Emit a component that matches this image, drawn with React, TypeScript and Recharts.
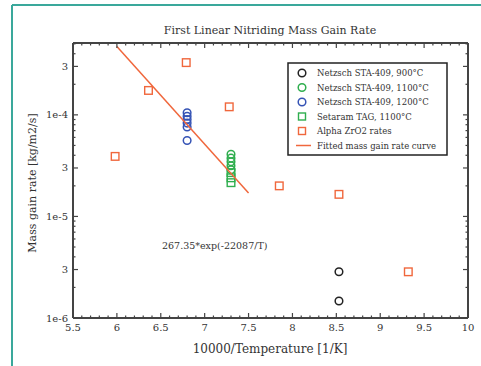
import React from "react";
import { ComposedChart, Scatter, XAxis, YAxis } from "recharts";

// x = 10000/T [1/K], y = mass gain rate [kg/m2/s]
const netzsch900: [number, number][] = [[8.53, 2.85e-6], [8.53, 1.47e-6]];
const netzsch1100: [number, number][] = [[7.3, 4.1e-5], [7.3, 3.75e-5], [7.3, 3.45e-5], [7.3, 3.15e-5], [7.3, 2.88e-5]];
const netzsch1200: [number, number][] = [[6.8, 1.05e-4], [6.8, 9.7e-5], [6.8, 9.0e-5], [6.8, 8.3e-5], [6.8, 7.6e-5], [6.8, 5.6e-5]];
const setaram: [number, number][] = [[7.3, 2.7e-5], [7.3, 2.4e-5], [7.3, 2.15e-5]];
const alphaRates: [number, number][] = [
  [5.98, 3.9e-5], [6.36, 1.74e-4], [6.79, 3.27e-4], [7.28, 1.2e-4],
  [7.85, 2.0e-5], [8.53, 1.65e-5], [9.32, 2.85e-6],
];
const fitCurve: [number, number][] = [[6.0, 4.7e-4], [7.5, 1.7e-5]];

const xMajor = [5.5, 6, 6.5, 7, 7.5, 8, 8.5, 9, 9.5, 10];
const xTicks = [
  5.5, 5.6, 5.7, 5.8, 5.9, 6, 6.1, 6.2, 6.3, 6.4, 6.5, 6.6, 6.7, 6.8, 6.9, 7, 7.1, 7.2, 7.3, 7.4,
  7.5, 7.6, 7.7, 7.8, 7.9, 8, 8.1, 8.2, 8.3, 8.4, 8.5, 8.6, 8.7, 8.8, 8.9, 9, 9.1, 9.2, 9.3, 9.4,
  9.5, 9.6, 9.7, 9.8, 9.9, 10,
];
const yTicks = [
  1e-6, 2e-6, 3e-6, 4e-6, 5e-6, 6e-6, 7e-6, 8e-6, 9e-6,
  1e-5, 2e-5, 3e-5, 4e-5, 5e-5, 6e-5, 7e-5, 8e-5, 9e-5,
  1e-4, 2e-4, 3e-4, 4e-4, 5e-4,
];
const yLabels: [number, string][] = [[1e-6, "1e-6"], [3e-6, "3"], [1e-5, "1e-5"], [3e-5, "3"], [1e-4, "1e-4"], [3e-4, "3"]];

const toPts = (a: [number, number][]) => a.map(([x, y]) => ({ x, y }));

const FONT = "'DejaVu Serif', 'Liberation Serif', serif";
const AX = "#444";
const ORANGE = "#f0673c";
const GREEN = "#2fae4e";
const BLUE = "#3553b5";
const BLACK = "#222";

const near = (a: number, b: number) => Math.abs(a - b) < 1e-6;
const yLabel = (v: number) => {
  const f = yLabels.find(([t]) => Math.abs(t - v) / t < 1e-6);
  return f ? f[1] : null;
};

const bottomTick = (p: any) => {
  const v = p.payload.value;
  const major = xMajor.some((m) => near(m, v));
  return (
    <g>
      <line x1={p.x} x2={p.x} y1={p.y} y2={p.y - (major ? 5 : 2.5)} stroke={AX} strokeWidth={1.2} />
      {major && (
        <text x={p.x} y={p.y + 13} textAnchor="middle" fontSize={10} fontFamily={FONT} fill="#333">
          {String(v)}
        </text>
      )}
    </g>
  );
};

const topTick = (p: any) => {
  const v = p.payload.value;
  const major = xMajor.some((m) => near(m, v));
  return <line x1={p.x} x2={p.x} y1={p.y} y2={p.y + (major ? 5 : 2.5)} stroke={AX} strokeWidth={1.2} />;
};

const leftTick = (p: any) => {
  const lab = yLabel(p.payload.value);
  return (
    <g>
      <line x1={p.x} x2={p.x + (lab ? 5 : 2.5)} y1={p.y} y2={p.y} stroke={AX} strokeWidth={1.2} />
      {lab && (
        <text x={p.x - 5} y={p.y + 3.5} textAnchor="end" fontSize={10} fontFamily={FONT} fill="#333">
          {lab}
        </text>
      )}
    </g>
  );
};

const rightTick = (p: any) => {
  const lab = yLabel(p.payload.value);
  return <line x1={p.x} x2={p.x - (lab ? 5 : 2.5)} y1={p.y} y2={p.y} stroke={AX} strokeWidth={1.2} />;
};

const circle = (color: string) => (p: any) => (
  <circle cx={p.cx} cy={p.cy} r={3.8} fill="none" stroke={color} strokeWidth={1.5} />
);
const square = (color: string) => (p: any) => (
  <rect x={p.cx - 3.8} y={p.cy - 3.8} width={7.6} height={7.6} fill="none" stroke={color} strokeWidth={1.4} />
);

const legendItems = [
  { label: "Netzsch STA-409, 900°C", kind: "circle", color: BLACK },
  { label: "Netzsch STA-409, 1100°C", kind: "circle", color: GREEN },
  { label: "Netzsch STA-409, 1200°C", kind: "circle", color: BLUE },
  { label: "Setaram TAG, 1100°C", kind: "square", color: GREEN },
  { label: "Alpha ZrO2 rates", kind: "square", color: ORANGE },
  { label: "Fitted mass gain rate curve", kind: "line", color: ORANGE },
];

export default function App() {
  const axisLine = { stroke: AX, strokeWidth: 2 };
  return (
    <div style={{ position: "absolute", left: 0, top: 0, width: 481, height: 366, background: "#fff" }}>
      <ComposedChart width={481} height={366} margin={{ top: 42, right: 12, bottom: 47, left: 72 }}>
        <XAxis xAxisId="b" type="number" dataKey="x" domain={[5.5, 10]} ticks={xTicks} interval={0}
          height={1} tickSize={0} tickMargin={0} tickLine={false} axisLine={axisLine} tick={bottomTick} allowDataOverflow />
        <XAxis xAxisId="t" orientation="top" type="number" dataKey="x" domain={[5.5, 10]} ticks={xTicks} interval={0}
          height={1} tickSize={0} tickMargin={0} tickLine={false} axisLine={axisLine} tick={topTick} allowDataOverflow />
        <YAxis yAxisId="l" type="number" scale="log" dataKey="y" domain={[1e-6, 5.1e-4]} ticks={yTicks} interval={0}
          width={1} tickSize={0} tickMargin={0} tickLine={false} axisLine={axisLine} tick={leftTick} allowDataOverflow />
        <YAxis yAxisId="r" orientation="right" type="number" scale="log" dataKey="y" domain={[1e-6, 5.1e-4]} ticks={yTicks} interval={0}
          width={1} tickSize={0} tickMargin={0} tickLine={false} axisLine={axisLine} tick={rightTick} allowDataOverflow />
        <Scatter xAxisId="b" yAxisId="l" data={toPts(alphaRates)} shape={square(ORANGE)} isAnimationActive={false} />
        <Scatter xAxisId="b" yAxisId="l" data={toPts(netzsch1200)} shape={circle(BLUE)} isAnimationActive={false} />
        <Scatter xAxisId="b" yAxisId="l" data={toPts(setaram)} shape={square(GREEN)} isAnimationActive={false} />
        <Scatter xAxisId="b" yAxisId="l" data={toPts(netzsch1100)} shape={circle(GREEN)} isAnimationActive={false} />
        <Scatter xAxisId="b" yAxisId="l" data={toPts(netzsch900)} shape={circle(BLACK)} isAnimationActive={false} />
        <Scatter xAxisId="b" yAxisId="l" data={toPts(fitCurve)} line={{ stroke: ORANGE, strokeWidth: 1.5 }}
          shape={() => <g />} isAnimationActive={false} />
      </ComposedChart>
      <svg width={481} height={366} style={{ position: "absolute", left: 0, top: 0, pointerEvents: "none" }}>
        <line x1={12} y1={5} x2={481} y2={5} stroke="#3aa89b" strokeWidth={2} />
        <line x1={12} y1={5} x2={12} y2={366} stroke="#3aa89b" strokeWidth={2} />
        <text x={270} y={34} textAnchor="middle" fontSize={11} fontFamily={FONT} fill="#333">
          First Linear Nitriding Mass Gain Rate
        </text>
        <text x={270} y={353} textAnchor="middle" fontSize={12} fontFamily={FONT} fill="#333">
          10000/Temperature [1/K]
        </text>
        <text x={36} y={183} textAnchor="middle" fontSize={11} fontFamily={FONT} fill="#333" transform="rotate(-90 36 183)">
          Mass gain rate [kg/m2/s]
        </text>
        <text x={162} y={249} fontSize={9.5} fontFamily={FONT} fill="#333">
          267.35*exp(-22087/T)
        </text>
        <rect x={288} y={63} width={159} height={92} fill="#fff" stroke="#222" strokeWidth={1.5} />
        {legendItems.map((it, i) => {
          const cy = 73 + i * 14.5;
          return (
            <g key={it.label}>
              {it.kind === "circle" && <circle cx={302} cy={cy} r={3.8} fill="none" stroke={it.color} strokeWidth={1.5} />}
              {it.kind === "square" && (
                <rect x={298.5} y={cy - 3.5} width={7} height={7} fill="none" stroke={it.color} strokeWidth={1.4} />
              )}
              {it.kind === "line" && <line x1={296} x2={311} y1={cy} y2={cy} stroke={it.color} strokeWidth={1.5} />}
              <text x={317} y={cy + 3} fontSize={8.5} fontFamily={FONT} fill="#333">
                {it.label}
              </text>
            </g>
          );
        })}
      </svg>
    </div>
  );
}
